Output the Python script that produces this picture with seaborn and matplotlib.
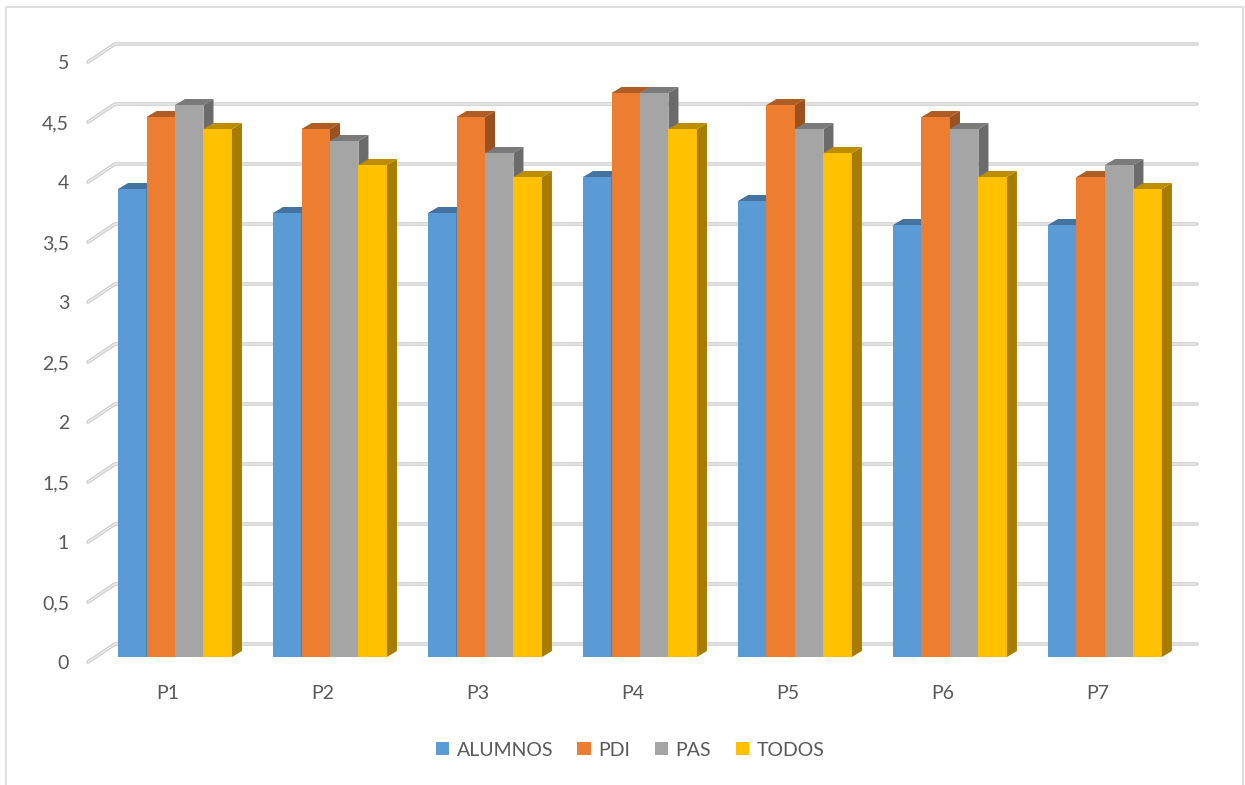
import numpy as np
import pandas as pd
import matplotlib
matplotlib.use("Agg")
import matplotlib.pyplot as plt
import matplotlib.transforms as mtransforms
from matplotlib.patches import Polygon, Patch, Rectangle
from matplotlib.lines import Line2D
import seaborn as sns

# ---- data ----
preguntas = ["P1", "P2", "P3", "P4", "P5", "P6", "P7"]
series = ["ALUMNOS", "PDI", "PAS", "TODOS"]
alumnos = [3.9, 3.7, 3.7, 4.0, 3.8, 3.6, 3.6]
pdi = [4.5, 4.4, 4.5, 4.7, 4.6, 4.5, 4.0]
pas = [4.6, 4.3, 4.2, 4.7, 4.4, 4.4, 4.1]
todos = [4.4, 4.1, 4.0, 4.4, 4.2, 4.0, 3.9]
y_ticks = [0, 0.5, 1, 1.5, 2, 2.5, 3, 3.5, 4, 4.5, 5]

colors = ["#5B9BD5", "#ED7D31", "#A5A5A5", "#FFC000"]

df = pd.DataFrame({"pregunta": preguntas, "ALUMNOS": alumnos, "PDI": pdi,
                   "PAS": pas, "TODOS": todos})
long_df = df.melt(id_vars="pregunta", var_name="grupo", value_name="valor")

# ---- figure ----
sns.set_theme(style="white")
plt.rcParams["font.family"] = ["Lato", "DejaVu Sans"]
text_color = "#595959"

W, H = 1245, 785
fig = plt.figure(figsize=(W / 100, H / 100), dpi=100)
ax = fig.add_axes([95.5 / W, (H - 657) / H, 1082 / W, 600 / H])

sns.barplot(data=long_df, x="pregunta", y="valor", hue="grupo",
            hue_order=series, order=preguntas, palette=colors,
            width=0.735, saturation=1, linewidth=0, errorbar=None,
            legend=False, ax=ax)

xl, xr = -0.513, 6.468
ax.set_xlim(xl, xr)
ax.set_ylim(0, 5)
for s in ax.spines.values():
    s.set_visible(False)
ax.set_xlabel("")
ax.set_ylabel("")

# pixel -> data unit factors
px = (xr - xl) / 1082.0
py = 5.0 / 600.0

# ---- pseudo-3D walls: back gridlines and side-wall diagonals ----
for v in y_ticks:
    xs = [xl - 7.5 * px, xl + 19.5 * px, xr + 19.5 * px]
    ys = [v - 5 * py, v + 13 * py, v + 13 * py]
    ax.add_line(Line2D(xs, ys, color="#cfcfcf", lw=2.6, clip_on=False,
                       zorder=0.5, solid_capstyle="round",
                       solid_joinstyle="round"))
    ax.add_line(Line2D(xs, ys, color="#ececec", lw=0.9, clip_on=False,
                       zorder=0.6, solid_capstyle="round",
                       solid_joinstyle="round"))

# ---- pseudo-3D bars: top and side faces ----
dx, dy = 10 * px, 6 * py


def shade(c, f):
    r, g, b = matplotlib.colors.to_rgb(c)
    return (r * f, g * f, b * f)


for h, cont in enumerate(ax.containers):
    col = colors[h]
    for rect in cont:
        rect.set_zorder(2 + 2 * h)
        x0, w, t = rect.get_x(), rect.get_width(), rect.get_height()
        top = Polygon([(x0, t), (x0 + w, t), (x0 + w + dx, t + dy),
                       (x0 + dx, t + dy)], closed=True,
                      facecolor=shade(col, 0.74), edgecolor="none",
                      zorder=3 + 2 * h, clip_on=False)
        side = Polygon([(x0 + w, 0), (x0 + w, t), (x0 + w + dx, t + dy),
                        (x0 + w + dx, dy)], closed=True,
                       facecolor=shade(col, 0.65), edgecolor="none",
                       zorder=3 + 2 * h, clip_on=False)
        ax.add_patch(side)
        ax.add_patch(top)

# ---- ticks ----
ax.set_yticks(y_ticks)
ax.set_yticklabels([f"{v:g}".replace(".", ",") for v in y_ticks])
ax.tick_params(axis="y", length=0, pad=19, labelsize=14,
               labelcolor=text_color)
ax.tick_params(axis="x", length=0, pad=20, labelsize=14,
               labelcolor=text_color)
for lbl in ax.get_yticklabels():
    lbl.set_transform(lbl.get_transform() + mtransforms.ScaledTranslation(
        0, -5 / 100, fig.dpi_scale_trans))
for lbl in ax.get_xticklabels():
    lbl.set_transform(lbl.get_transform() + mtransforms.ScaledTranslation(
        -7 / 100, 0, fig.dpi_scale_trans))

# ---- legend ----
handles = [Patch(facecolor=c, edgecolor="none", label=s)
           for s, c in zip(series, colors)]
fig.legend(handles=handles, loc="center", ncol=4, frameon=False,
           bbox_to_anchor=(630 / W, 1 - 750 / H), fontsize=14,
           labelcolor=text_color, handlelength=0.68, handleheight=0.68,
           handletextpad=0.4, columnspacing=1.25)

# ---- chart border ----
fig.add_artist(Rectangle((6 / W, -0.02), (1243 - 6) / W, (H - 7) / H + 0.02,
                         transform=fig.transFigure, fill=False,
                         edgecolor="#d9d9d9", lw=1.2))

fig.savefig("out.png", dpi=100, facecolor="white")
